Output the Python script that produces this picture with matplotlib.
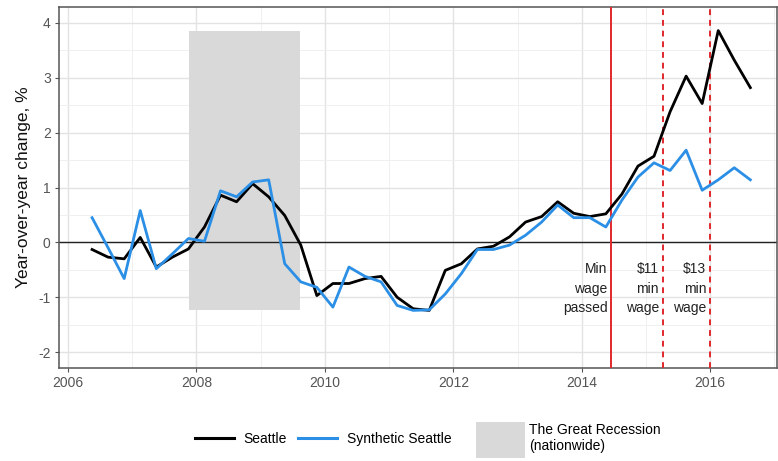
import numpy as np
import matplotlib
matplotlib.use("Agg")
import matplotlib.pyplot as plt
from matplotlib.lines import Line2D
from matplotlib.patches import Patch, Rectangle
from matplotlib.ticker import MultipleLocator

plt.rcParams["font.family"] = ["Liberation Sans", "DejaVu Sans"]
plt.rcParams["axes.unicode_minus"] = False

# Quarterly observations (mid-quarter), 2006 Q2 through 2016 Q3
quarters = 2006.375 + 0.25 * np.arange(42)

seattle = [
    -0.13, -0.27, -0.30, 0.09, -0.45, -0.27, -0.12, 0.28, 0.86, 0.74,
    1.07, 0.83, 0.49, -0.05, -0.97, -0.75, -0.75, -0.66, -0.62, -1.00,
    -1.21, -1.24, -0.51, -0.39, -0.12, -0.07, 0.10, 0.37, 0.47, 0.74,
    0.53, 0.47, 0.52, 0.88, 1.39, 1.57, 2.38, 3.03, 2.53, 3.86,
    3.32, 2.82,
]
synthetic = [
    0.45, -0.10, -0.66, 0.58, -0.48, -0.21, 0.07, 0.02, 0.94, 0.83,
    1.10, 1.14, -0.39, -0.72, -0.82, -1.18, -0.45, -0.62, -0.72, -1.15,
    -1.24, -1.23, -0.94, -0.57, -0.13, -0.13, -0.05, 0.13, 0.37, 0.68,
    0.45, 0.45, 0.28, 0.77, 1.19, 1.45, 1.31, 1.68, 0.95, 1.14,
    1.36, 1.14,
]

recession = (2007.88, 2009.62)
policy_dates = [2014.46, 2015.26, 2016.0]
policy_labels = ["Min\nwage\npassed", "$11\nmin\nwage", "$13\nmin\nwage"]
policy_styles = ["-", "--", "--"]

x_ticks = [2006, 2008, 2010, 2012, 2014, 2016]
y_ticks = [-2, -1, 0, 1, 2, 3, 4]

BLACK = "#000000"
BLUE = "#2b8fe6"
RED = "#e0282d"
SHADE = "#d9d9d9"

fig = plt.figure(figsize=(7.78, 4.61), dpi=100)
ax = fig.add_axes([59 / 778, 1 - 368 / 461, 718 / 778, 361 / 461])

ax.set_xlim(2005.86, 2017.04)
ax.set_ylim(-2.29, 4.29)

# grid in the style of theme_bw
ax.set_xticks(x_ticks)
ax.set_yticks(y_ticks)
ax.xaxis.set_minor_locator(MultipleLocator(1))
ax.yaxis.set_minor_locator(MultipleLocator(0.5))
ax.grid(which="major", color="#e3e3e3", linewidth=1.0)
ax.grid(which="minor", color="#eeeeee", linewidth=0.6)
ax.set_axisbelow(True)
for s in ax.spines.values():
    s.set_color("#555555")
    s.set_linewidth(1.1)
ax.tick_params(which="major", length=3, color="#555555", labelsize=10,
               labelcolor="#555555", pad=3)
ax.tick_params(which="minor", length=0)

# recession shading spanning the data range
lo = min(min(seattle), min(synthetic))
hi = max(max(seattle), max(synthetic))
ax.add_patch(Rectangle((recession[0], lo), recession[1] - recession[0], hi - lo,
                       facecolor=SHADE, edgecolor="none", zorder=1))

ax.axhline(0, color="#222222", linewidth=1.0, zorder=2)

for d, lab, ls in zip(policy_dates, policy_labels, policy_styles):
    ax.axvline(d, color=RED, linestyle=ls, linewidth=1.4,
               dashes=(3, 2.5) if ls == "--" else (None, None), zorder=3)
    ax.text(d - 0.06, -0.36, lab, ha="right", va="top", fontsize=10,
            linespacing=1.5, color="#222222", zorder=4)

ax.plot(quarters, seattle, color=BLACK, linewidth=2.0, zorder=5,
        solid_joinstyle="round")
ax.plot(quarters, synthetic, color=BLUE, linewidth=2.0, zorder=5,
        solid_joinstyle="round")

ax.set_ylabel("Year-over-year change, %", fontsize=12.5, color="#111111",
              labelpad=5)

line_handles = [Line2D([], [], color=BLACK, linewidth=2.2),
                Line2D([], [], color=BLUE, linewidth=2.2)]
fig.legend(line_handles, ["Seattle", "Synthetic Seattle"],
           loc="center", bbox_to_anchor=(323 / 778, 1 - 439 / 461),
           ncol=2, frameon=False, fontsize=10, handlelength=2.8,
           columnspacing=0.8, handletextpad=0.7)
fig.legend([Patch(facecolor=SHADE, edgecolor="none")],
           ["The Great Recession\n(nationwide)"],
           loc="center left", bbox_to_anchor=(469 / 778, 1 - 440 / 461),
           frameon=False, fontsize=10, handlelength=3.5, handleheight=3.6,
           handletextpad=0.3, borderpad=0.0)

fig.savefig("out.png", dpi=100)
